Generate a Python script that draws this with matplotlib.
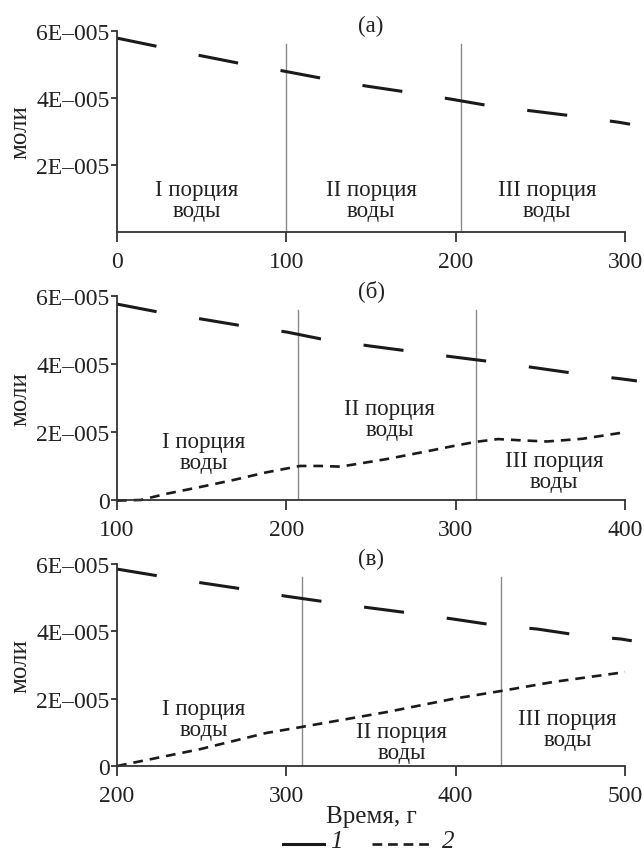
import matplotlib
matplotlib.use("Agg")
import matplotlib.pyplot as plt
from matplotlib.lines import Line2D

plt.rcParams["font.family"] = ["Liberation Serif", "DejaVu Serif"]
plt.rcParams["lines.scale_dashes"] = False

# --- данные (моли x 1e-5) ---
t_a1 = [0, 23, 48, 72, 98, 120, 147, 171, 197, 221, 246, 270, 296, 303]
y_a1 = [5.79, 5.55, 5.28, 5.04, 4.81, 4.60, 4.36, 4.18, 3.97, 3.76, 3.61, 3.46, 3.28, 3.22]

t_b1 = [100, 124, 150, 174, 200, 220, 249, 272, 298, 322, 348, 372, 398, 407]
y_b1 = [5.76, 5.53, 5.32, 5.12, 4.94, 4.74, 4.53, 4.38, 4.21, 4.06, 3.88, 3.71, 3.56, 3.50]
t_b2 = [100, 114, 129, 149, 169, 188, 208, 220, 232, 259, 285, 299, 312, 325, 340, 354, 375, 401]
y_b2 = [-0.02, 0.0, 0.18, 0.38, 0.59, 0.81, 1.0, 1.0, 0.98, 1.2, 1.45, 1.59, 1.71, 1.79, 1.75, 1.72, 1.80, 2.0]

t_c1 = [200, 224, 250, 274, 299, 324, 349, 372, 398, 422, 448, 472, 498, 504]
y_c1 = [5.85, 5.65, 5.44, 5.26, 5.05, 4.87, 4.70, 4.55, 4.37, 4.19, 4.07, 3.89, 3.77, 3.72]
t_c2 = [200, 249, 288, 309, 359, 399, 427, 458, 500]
y_c2 = [0.0, 0.5, 0.98, 1.16, 1.6, 2.0, 2.23, 2.5, 2.79]

panel_titles = ["(а)", "(б)", "(в)"]
xlims = [(0, 300), (100, 400), (200, 500)]
xticks = [[0, 100, 200, 300], [100, 200, 300, 400], [200, 300, 400, 500]]
portion_lines = [[100, 203], [207, 312], [309, 427]]
portion_labels = ["I порция\nводы", "II порция\nводы", "III порция\nводы"]
portion_pos = [
    [(47, 0.95), (150, 0.95), (254, 0.95)],
    [(151, 1.41), (261, 2.38), (358, 0.85)],
    [(251, 1.40), (368, 0.71), (466, 1.10)],
]
ytick_vals = [2, 4, 6]
ytick_labels = ["2E\u2013005", "4E\u2013005", "6E\u2013005"]
legend_labels = ["1", "2"]

series1 = [(t_a1, y_a1), (t_b1, y_b1), (t_c1, y_c1)]
series2 = [None, (t_b2, y_b2), (t_c2, y_c2)]

DASH1 = (29, 31)
DASH2 = (7, 5)
INK = "#1a1a1a"

fig = plt.figure(figsize=(6.44, 8.53), dpi=100)
rects = [
    [0.1817, 0.7268, 0.7888, 0.2356],
    [0.1817, 0.4127, 0.7888, 0.2392],
    [0.1817, 0.1008, 0.7888, 0.2368],
]

for i in range(3):
    ax = fig.add_axes(rects[i])
    x1, y1 = series1[i]
    ax.plot(x1, y1, color=INK, lw=2.2, dashes=DASH1, clip_on=False)
    if series2[i] is not None:
        x2, y2 = series2[i]
        ax.plot(x2, y2, color=INK, lw=1.9, dashes=DASH2, clip_on=False)
    for xv in portion_lines[i]:
        ax.plot([xv, xv], [0, 5.6], color="#8a8a8a", lw=1.0, zorder=1)
    for (px, py), txt in zip(portion_pos[i], portion_labels):
        ax.text(px, py, txt, ha="center", va="center", fontsize=16.5,
                linespacing=1.0, color="#222222")

    ax.set_xlim(*xlims[i])
    ax.set_ylim(0, 6)
    ax.set_xticks(xticks[i])
    if i == 0:
        ax.set_yticks(ytick_vals)
        ax.set_yticklabels(ytick_labels)
    else:
        ax.set_yticks([0] + ytick_vals)
        ax.set_yticklabels(["0"] + ytick_labels)
    for s in ["top", "right"]:
        ax.spines[s].set_visible(False)
    for s in ["left", "bottom"]:
        ax.spines[s].set_linewidth(1.3)
        ax.spines[s].set_color("#333333")
    ax.tick_params(axis="y", direction="out", length=4, width=1.2, pad=1.5,
                   labelsize=17, colors="#222222")
    ax.tick_params(axis="x", direction="out", length=7, width=1.2, pad=7,
                   labelsize=17, colors="#222222")
    ax.set_ylabel("моли", fontsize=18, labelpad=3, color="#222222")
    ax.annotate(panel_titles[i], xy=(0.5, 1.0), xycoords="axes fraction",
                xytext=(0, 4), textcoords="offset points",
                ha="center", va="center", fontsize=16.5, color="#222222")
    if i == 2:
        ax.set_xlabel("Время, г", fontsize=18, labelpad=-1, color="#222222")

# легенда
ly = 1 - 845 / 853
fig.add_artist(Line2D([283 / 644, 324 / 644], [ly, ly], color=INK, lw=2.2,
                      transform=fig.transFigure))
fig.text(330 / 644, 1 - 842 / 853, legend_labels[0], ha="left", va="center",
         fontsize=18, style="italic", color="#222222")
fig.add_artist(Line2D([372 / 644, 430 / 644], [ly, ly], color=INK, lw=1.9,
                      dashes=(7, 4.2), transform=fig.transFigure))
fig.text(442 / 644, 1 - 842 / 853, legend_labels[1], ha="left", va="center",
         fontsize=18, style="italic", color="#222222")

fig.savefig("out.png", dpi=100)
